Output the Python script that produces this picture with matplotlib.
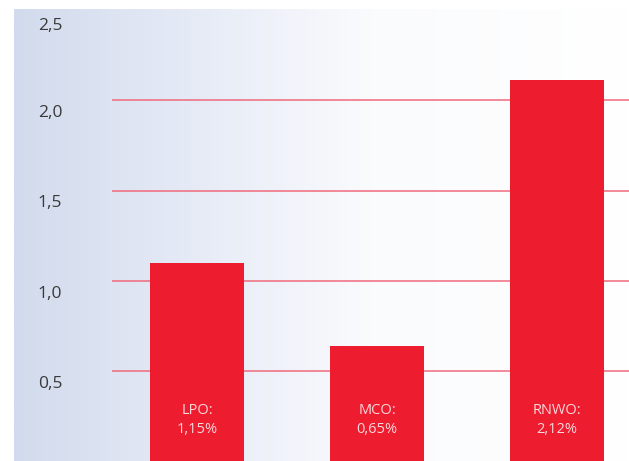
import numpy as np
import matplotlib
matplotlib.use("Agg")
import matplotlib.pyplot as plt
from matplotlib.colors import LinearSegmentedColormap

# data
categories = ["LPO", "MCO", "RNWO"]
heights = [1.10, 0.64, 2.11]
value_labels = ["1,15%", "0,65%", "2,12%"]
yticks = [0.5, 1.0, 1.5, 2.0, 2.5]
ytick_labels = ["0,5", "1,0", "1,5", "2,0", "2,5"]

W, H, dpi = 629, 461, 100
red = "#ED1C2E"

plt.rcParams["font.family"] = ["Open Sans", "DejaVu Sans"]
fig = plt.figure(figsize=(W / dpi, H / dpi), dpi=dpi)
# axes spans pixel x 14..629, y 9..461
ax = fig.add_axes([14 / W, 0, 1 - 14 / W, 1 - 9 / H])
x = np.arange(len(categories))
x0, x1 = (14 - 197) / 180, (629 - 197) / 180
ax.set_xlim(x0, x1)
ax.set_ylim(0.0055, 2.5028)
ax.axis("off")

# background gradient, blue-grey on the left fading to white
cmap = LinearSegmentedColormap.from_list(
    "bg", [(0, "#D2DBED"), (0.3, "#E6EBF6"), (0.58, "#FAFBFD"), (1, "#FFFFFF")])
grad = np.linspace(0, 1, 256)[None, :]
ax.imshow(grad, cmap=cmap, aspect="auto", extent=(x0, x1, 0, 2.6),
          zorder=0, interpolation="bilinear")

# grid lines
gx0 = (112 - 197) / 180
ax.hlines(yticks[:-1], gx0, x1, color="#F06A7C", lw=1.1, zorder=1)

ax.bar(x, heights, width=94 / 180, color=red, zorder=2)

for xi, c, v in zip(x, categories, value_labels):
    ax.text(xi, 0.232, c + ":\n" + v, ha="center", va="center",
            color="#FBD8DC", fontsize=10.5, linespacing=1.3, zorder=3)

# y tick labels sit inside the panel, just below each value
tx = (50 - 197) / 180
for yv, lab in zip(yticks, ytick_labels):
    off = -12 if yv == yticks[-1] else -9
    ax.annotate(lab, (tx, yv), xytext=(0, off), textcoords="offset points",
                ha="center", va="center", fontsize=12.5, color="#3a3a3a",
                zorder=3)

fig.savefig("out.png", dpi=dpi)
